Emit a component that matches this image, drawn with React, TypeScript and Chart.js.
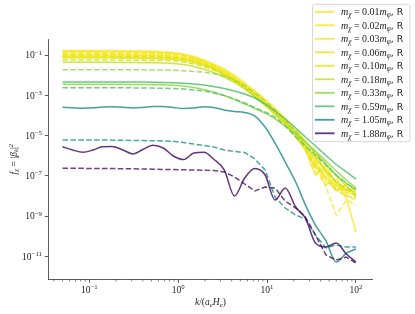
import React, { useEffect, useRef } from 'react';
import { Chart, registerables } from 'chart.js';

Chart.register(...registerables);

// ---------- data ----------
const kValues = [0.05, 0.065, 0.085, 0.11, 0.14, 0.18, 0.24, 0.31, 0.40, 0.52, 0.68, 0.88, 1.15, 1.5, 1.95, 2.5, 3.3, 4.3, 5.6, 7.3, 9.5, 12.3, 16, 21, 27, 35, 46, 60, 78, 100];

const massLabels = ['0.01', '0.02', '0.03', '0.06', '0.10', '0.18', '0.33', '0.59', '1.05', '1.88'];

// solid lines (R)
const fR001 = [0.173, 0.173, 0.173, 0.173, 0.171, 0.171, 0.169, 0.167, 0.164, 0.158, 0.149, 0.138, 0.116, 0.087, 0.058, 0.037, 0.021, 0.0099, 0.0042, 1.7e-3, 6.7e-4, 2.4e-4, 7.6e-5, 2.2e-5, 5.4e-6, 1.1e-6, 2.0e-7, 5.0e-8, 7.9e-9, 1.6e-10];
const fR002 = [0.149, 0.149, 0.149, 0.149, 0.147, 0.147, 0.146, 0.144, 0.141, 0.136, 0.130, 0.123, 0.1035, 0.0777, 0.0521, 0.0329, 0.0176, 0.0083, 0.00353, 1.41e-3, 5.3e-4, 1.9e-4, 6.0e-5, 1.53e-5, 3.45e-6, 4.9e-7, 7.9e-8, 3.1e-8, 1.6e-8, 1.1e-8];
const fR003 = [0.106, 0.106, 0.106, 0.106, 0.105, 0.105, 0.1035, 0.102, 0.0999, 0.0977, 0.0948, 0.0902, 0.0777, 0.0619, 0.044, 0.0278, 0.0148, 0.0070, 0.00297, 1.19e-3, 4.2e-4, 1.5e-4, 4.8e-5, 1.2e-5, 2.4e-6, 2.5e-7, 1.57e-7, 2.0e-8, 3.5e-8, 7.9e-9];
const fR006 = [0.0872, 0.0872, 0.0872, 0.0872, 0.0862, 0.0862, 0.0852, 0.0843, 0.0823, 0.0805, 0.0777, 0.0734, 0.0655, 0.0521, 0.0369, 0.0233, 0.0125, 0.0059, 0.0025, 9.4e-4, 3.37e-4, 1.2e-4, 3.8e-5, 8.6e-6, 1.94e-6, 1.11e-7, 3.49e-7, 3.53e-8, 2.0e-8, 2.5e-8];
const fR010 = [0.0734, 0.0734, 0.0734, 0.0734, 0.0726, 0.0726, 0.0718, 0.071, 0.0694, 0.0678, 0.0655, 0.0633, 0.0552, 0.0439, 0.0311, 0.0208, 0.0111, 0.00527, 0.00223, 8.4e-4, 3.18e-4, 1.13e-4, 3.8e-5, 1.08e-5, 3.1e-6, 7.8e-7, 1.57e-7, 5.0e-8, 2.0e-8, 1.6e-8];
const fR018 = [0.0449, 0.0449, 0.0449, 0.0449, 0.0444, 0.0444, 0.0439, 0.0434, 0.0429, 0.0424, 0.0414, 0.0391, 0.0349, 0.0277, 0.0208, 0.0140, 0.0083, 0.00443, 0.00211, 8.9e-4, 3.57e-4, 1.35e-4, 4.8e-5, 1.53e-5, 4.86e-6, 1.46e-6, 3.9e-7, 9.9e-8, 3.15e-8, 1.26e-8];
const fR033 = [0.00361, 0.00361, 0.00361, 0.00361, 0.00361, 0.00357, 0.00357, 0.00353, 0.00349, 0.00345, 0.00341, 0.00322, 0.00297, 0.0025, 0.00199, 1.5e-3, 1.0e-3, 6.3e-4, 3.78e-4, 2.25e-4, 1.35e-4, 6.8e-5, 3.04e-5, 1.21e-5, 4.86e-6, 1.73e-6, 5.5e-7, 1.76e-7, 6.25e-8, 2.5e-8];
const fR059 = [0.00469, 0.00469, 0.00469, 0.00469, 0.00469, 0.00469, 0.00469, 0.00464, 0.00464, 0.00459, 0.00448, 0.00428, 0.00404, 0.00373, 0.00333, 0.0028, 0.00223, 1.68e-3, 1.19e-3, 7.5e-4, 3.78e-4, 1.69e-4, 6.8e-5, 2.4e-5, 8.6e-6, 3.08e-6, 1.04e-6, 3.7e-7, 1.57e-7, 7.0e-8];
const fR105 = [2.59e-4, 2.45e-4, 2.34e-4, 2.45e-4, 2.68e-4, 2.74e-4, 2.62e-4, 2.39e-4, 2.53e-4, 2.81e-4, 2.84e-4, 2.53e-4, 2.26e-4, 2.39e-4, 2.74e-4, 2.53e-4, 1.9e-4, 1.6e-4, 1.43e-4, 9.5e-5, 2.7e-5, 4.3e-6, 4.9e-7, 5.0e-8, 3.6e-9, 3.6e-10, 5.8e-11, 5.2e-12, 1.46e-11, 2.3e-11];
const fR188 = [2.84e-6, 1.94e-6, 1.51e-6, 1.94e-6, 2.81e-6, 2.9e-6, 1.94e-6, 1.23e-6, 2.05e-6, 3.33e-6, 2.44e-6, 9.8e-7, 6.5e-7, 1.38e-6, 1.5e-6, 6.9e-7, 1.97e-7, 1.0e-8, 7.9e-8, 2.34e-7, 1.11e-7, 6.3e-9, 2.5e-8, 2.84e-9, 8.0e-10, 4.6e-11, 2.9e-11, 4.6e-11, 1.3e-11, 5.2e-12];

// dashed lines
const fD001 = [0.126, 0.126, 0.126, 0.126, 0.125, 0.125, 0.123, 0.122, 0.120, 0.117, 0.115, 0.110, 0.0923, 0.0694, 0.0464, 0.0294, 0.0157, 0.00743, 0.00315, 1.26e-3, 4.7e-4, 1.69e-4, 5.4e-5, 1.36e-5, 3.08e-6, 4.4e-7, 2.8e-8, 1.13e-9, 6.3e-9, 3.6e-9];
const fD002 = [0.141, 0.141, 0.141, 0.141, 0.139, 0.139, 0.138, 0.136, 0.134, 0.132, 0.129, 0.119, 0.0999, 0.075, 0.0504, 0.0311, 0.0166, 0.00787, 0.00333, 1.33e-3, 5.0e-4, 1.8e-4, 5.7e-5, 1.53e-5, 3.45e-6, 6.2e-7, 5.0e-8, 2.5e-8, 1.4e-8, 2.8e-8];
const fD003 = [0.110, 0.110, 0.110, 0.110, 0.109, 0.109, 0.108, 0.106, 0.105, 0.102, 0.0999, 0.0948, 0.0796, 0.0619, 0.0424, 0.0268, 0.0143, 0.00662, 0.0028, 1.12e-3, 4.2e-4, 1.51e-4, 4.8e-5, 1.21e-5, 2.7e-6, 3.5e-7, 9.9e-8, 1.6e-8, 4.0e-8, 2.0e-8];
const fD006 = [0.0948, 0.0948, 0.0948, 0.0948, 0.0935, 0.0935, 0.0923, 0.0911, 0.09, 0.0877, 0.0852, 0.0823, 0.0694, 0.0552, 0.0391, 0.0248, 0.0132, 0.00625, 0.00265, 1.0e-3, 3.78e-4, 1.35e-4, 4.3e-5, 1.08e-5, 2.2e-6, 1.97e-7, 3.5e-8, 7.9e-8, 1.1e-8, 6.3e-9];
const fD010 = [0.0823, 0.0823, 0.0823, 0.0823, 0.0814, 0.0814, 0.0805, 0.0796, 0.0786, 0.0777, 0.076, 0.0734, 0.0619, 0.0492, 0.0349, 0.022, 0.0117, 0.00557, 0.00236, 8.9e-4, 3.37e-4, 1.2e-4, 3.8e-5, 9.6e-6, 1.94e-6, 3.1e-7, 6.25e-8, 2.0e-8, 1.0e-8, 7.9e-9];
const fD018 = [0.0584, 0.0584, 0.0584, 0.0584, 0.0578, 0.0578, 0.0571, 0.0565, 0.0558, 0.0552, 0.0545, 0.0533, 0.0464, 0.0369, 0.0277, 0.0186, 0.0105, 0.00527, 0.00236, 9.4e-4, 3.57e-4, 1.27e-4, 4.3e-5, 1.21e-5, 3.45e-6, 8.7e-7, 1.97e-7, 5.0e-8, 2.5e-8, 1.0e-8];
const fD033 = [0.0192, 0.0192, 0.0192, 0.0192, 0.019, 0.019, 0.019, 0.0188, 0.0188, 0.0186, 0.0186, 0.018, 0.017, 0.0157, 0.0143, 0.0125, 0.00934, 0.0059, 0.00315, 1.33e-3, 5.3e-4, 1.9e-4, 6.0e-5, 1.71e-5, 4.86e-6, 1.38e-6, 3.9e-7, 1.11e-7, 4.4e-8, 2.0e-8];
const fD059 = [0.00244, 0.00244, 0.00244, 0.00244, 0.00244, 0.00241, 0.00241, 0.00239, 0.00236, 0.00233, 0.00228, 0.00223, 0.00211, 0.00188, 1.68e-3, 1.33e-3, 1.0e-3, 6.7e-4, 4.2e-4, 2.5e-4, 1.51e-4, 8.5e-5, 3.04e-5, 8.6e-6, 3.08e-6, 1.1e-6, 3.49e-7, 1.11e-7, 4.4e-8, 2.0e-8];
const fD105 = [6.11e-6, 6.11e-6, 6.11e-6, 6.11e-6, 6.11e-6, 6.0e-6, 5.9e-6, 5.77e-6, 5.7e-6, 5.6e-6, 5.45e-6, 5.27e-6, 4.6e-6, 3.87e-6, 3.26e-6, 2.74e-6, 1.94e-6, 1.63e-6, 1.46e-6, 6.9e-7, 1.97e-7, 8.9e-9, 2.53e-9, 1.13e-9, 7.2e-10, 1.15e-10, 2.6e-11, 3.65e-11, 2.9e-11, 2.9e-11];
const fD188 = [2.39e-7, 2.39e-7, 2.37e-7, 2.34e-7, 2.34e-7, 2.31e-7, 2.29e-7, 2.26e-7, 2.21e-7, 2.16e-7, 2.11e-7, 2.07e-7, 2.02e-7, 1.97e-7, 1.93e-7, 1.86e-7, 1.57e-7, 8.8e-8, 3.96e-8, 1.78e-8, 2.8e-8, 2.5e-8, 5.6e-9, 2.53e-9, 9.0e-10, 1.15e-10, 1.16e-11, 6.55e-12, 9.2e-12, 4.6e-12];

const solidSeries = [fR001, fR002, fR003, fR006, fR010, fR018, fR033, fR059, fR105, fR188];
const dashedSeries = [fD001, fD002, fD003, fD006, fD010, fD018, fD033, fD059, fD105, fD188];

const lineColors = ['#fbe723', '#f8e621', '#f6e620', '#efe51c', '#e2e418', '#c8e020', '#93d741', '#4cc26c', '#21908d', '#471365'];
// wavy low-k solid curves drawn with smooth interpolation
const smoothSolid = [false, false, false, false, false, false, false, false, true, true];

const yTickValues = [1e-1, 1e-3, 1e-5, 1e-7, 1e-9, 1e-11];
const yTickExps = ['−1', '−3', '−5', '−7', '−9', '−11'];
const xTickValues = [0.1, 1, 10, 100];
const xTickExps = ['−1', '0', '1', '2'];
const xMinorTicks = [0.04, 0.05, 0.06, 0.07, 0.08, 0.09, 0.2, 0.3, 0.4, 0.5, 0.6, 0.7, 0.8, 0.9, 2, 3, 4, 5, 6, 7, 8, 9, 20, 30, 40, 50, 60, 70, 80, 90];

// ---------- styling ----------
const SERIF = "'Liberation Serif', 'DejaVu Serif', serif";
const SANS = "'DejaVu Sans', sans-serif";
const TEXT = '#222222';
const AXIS = '#333333';
const FS = 9.5;
const FSS = 6.8;
const LFS = 10;
const LFSS = 7.2;

type Seg = { t: string; size: number; italic?: boolean; sans?: boolean; dy?: number };

function segFont(s: Seg) {
  return `${s.italic ? 'italic ' : ''}${s.size}px ${s.sans ? SANS : SERIF}`;
}
function measureSegs(ctx: CanvasRenderingContext2D, segs: Seg[]) {
  let w = 0;
  for (const s of segs) {
    ctx.font = segFont(s);
    w += ctx.measureText(s.t).width;
  }
  return w;
}
function drawSegs(ctx: CanvasRenderingContext2D, segs: Seg[], x: number, y: number) {
  let cx = x;
  for (const s of segs) {
    ctx.font = segFont(s);
    ctx.fillText(s.t, cx, y + (s.dy || 0));
    cx += ctx.measureText(s.t).width;
  }
}

const textPlugin = {
  id: 'mathText',
  afterDraw(chart: any) {
    const ctx: CanvasRenderingContext2D = chart.ctx;
    const xs = chart.scales.x;
    const ys = chart.scales.y;
    const area = chart.chartArea;
    ctx.save();
    // minor ticks on x
    ctx.strokeStyle = AXIS;
    ctx.lineWidth = 0.6;
    for (const v of xMinorTicks) {
      const px = xs.getPixelForValue(v);
      ctx.beginPath();
      ctx.moveTo(px, area.bottom);
      ctx.lineTo(px, area.bottom + 2.2);
      ctx.stroke();
    }
    ctx.fillStyle = TEXT;
    ctx.textBaseline = 'alphabetic';
    ctx.textAlign = 'left';
    // y tick labels
    yTickValues.forEach((v, i) => {
      const py = ys.getPixelForValue(v);
      const segs: Seg[] = [{ t: '10', size: FS }, { t: yTickExps[i], size: FSS, dy: -3.8 }];
      const w = measureSegs(ctx, segs);
      drawSegs(ctx, segs, area.left - 6.3 - w, py + 3.2);
    });
    // x tick labels
    xTickValues.forEach((v, i) => {
      const px = xs.getPixelForValue(v);
      const segs: Seg[] = [{ t: '10', size: FS }, { t: xTickExps[i], size: FSS, dy: -3.8 }];
      const w = measureSegs(ctx, segs);
      drawSegs(ctx, segs, px - w / 2, area.bottom + 13.4);
    });
    // x title
    const xt: Seg[] = [
      { t: 'k', size: FS, italic: true },
      { t: '/(', size: FS },
      { t: 'a', size: FS, italic: true },
      { t: 'e', size: FSS, italic: true, dy: 1.8 },
      { t: 'H', size: FS, italic: true },
      { t: 'e', size: FSS, italic: true, dy: 1.8 },
      { t: ')', size: FS },
    ];
    const xw = measureSegs(ctx, xt);
    drawSegs(ctx, xt, (area.left + area.right) / 2 - xw / 2, 305);
    // y title (rotated)
    const yt: Seg[] = [
      { t: 'f', size: FS, italic: true },
      { t: 'χ', size: FSS, italic: true, dy: 1.8 },
      { t: ' = |', size: FS },
      { t: 'β', size: FS, italic: true },
      { t: 'k', size: FSS, italic: true, dy: 1.8 },
      { t: '|', size: FS },
      { t: '2', size: FSS, dy: -3.8 },
    ];
    const yw = measureSegs(ctx, yt);
    ctx.save();
    ctx.translate(16.5, (area.top + area.bottom) / 2);
    ctx.rotate(-Math.PI / 2);
    drawSegs(ctx, yt, -yw / 2, 0);
    ctx.restore();

    // legend
    const lx = 312.5, ly = 4.3, lw = 97.5, lh = 137.4;
    ctx.beginPath();
    (ctx as any).roundRect(lx, ly, lw, lh, 2.5);
    ctx.fillStyle = 'rgba(255,255,255,0.8)';
    ctx.fill();
    ctx.strokeStyle = '#cccccc';
    ctx.lineWidth = 0.8;
    ctx.stroke();
    massLabels.forEach((m, i) => {
      const cy = 11.8 + i * 13.5;
      ctx.strokeStyle = lineColors[i] + 'd9';
      ctx.lineWidth = 1.8;
      ctx.beginPath();
      ctx.moveTo(315, cy);
      ctx.lineTo(334.5, cy);
      ctx.stroke();
      ctx.fillStyle = TEXT;
      const segs: Seg[] = [
        { t: 'm', size: LFS, italic: true },
        { t: 'χ', size: LFSS, italic: true, dy: 1.9 },
        { t: ' = ' + m, size: LFS },
        { t: 'm', size: LFS, italic: true },
        { t: 'φ', size: LFSS, italic: true, dy: 1.9 },
        { t: ', R', size: 9.3, sans: true },
      ];
      drawSegs(ctx, segs, 341, cy + 3.3);
    });
    ctx.restore();
  },
};

export default function App() {
  const ref = useRef<HTMLCanvasElement>(null);
  useEffect(() => {
    const canvas = ref.current;
    if (!canvas) return;
    const datasets: any[] = [];
    massLabels.forEach((m, i) => {
      datasets.push({
        label: `m_χ = ${m}m_φ, R`,
        data: kValues.map((k, j) => ({ x: k, y: solidSeries[i][j] })),
        borderColor: lineColors[i] + 'd9',
        borderWidth: 1.5,
        pointRadius: 0,
        fill: false,
        tension: 0,
        cubicInterpolationMode: smoothSolid[i] ? 'monotone' : 'default',
      });
      datasets.push({
        label: `m_χ = ${m}m_φ`,
        data: kValues.map((k, j) => ({ x: k, y: dashedSeries[i][j] })),
        borderColor: lineColors[i] + 'cc',
        borderWidth: 1.5,
        borderDash: [5.5, 2.4],
        pointRadius: 0,
        fill: false,
        tension: 0,
      });
    });
    datasets.reverse();
    const chart = new Chart(canvas, {
      type: 'line',
      data: { datasets },
      options: {
        animation: false,
        responsive: false,
        devicePixelRatio: 1,
        layout: { padding: { top: 39, right: 42.5, left: 0, bottom: 0 } },
        plugins: { legend: { display: false }, tooltip: { enabled: false } },
        scales: {
          x: {
            type: 'logarithmic',
            min: 0.0346,
            max: 153.5,
            afterBuildTicks: (s: any) => {
              s.ticks = xTickValues.map((v) => ({ value: v, major: true }));
            },
            afterFit: (s: any) => {
              s.height = 34.7;
            },
            ticks: { display: false },
            grid: { display: true, drawOnChartArea: false, drawTicks: true, tickLength: 3.5, tickWidth: 0.8, tickColor: AXIS },
            border: { display: true, color: AXIS, width: 0.8 },
          },
          y: {
            type: 'logarithmic',
            min: 7.2e-13,
            max: 0.645,
            afterBuildTicks: (s: any) => {
              s.ticks = yTickValues.map((v) => ({ value: v, major: true }));
            },
            afterFit: (s: any) => {
              s.width = 48.3;
            },
            ticks: { display: false },
            grid: { display: true, drawOnChartArea: false, drawTicks: true, tickLength: 3.5, tickWidth: 0.8, tickColor: AXIS },
            border: { display: true, color: AXIS, width: 0.8 },
          },
        },
      },
      plugins: [textPlugin],
    } as any);
    return () => chart.destroy();
  }, []);
  return (
    <div style={{ position: 'fixed', left: 0, top: 0, width: 415, height: 314, background: '#fff' }}>
      <canvas ref={ref} width={415} height={314} style={{ display: 'block', width: 415, height: 314 }} />
    </div>
  );
}
